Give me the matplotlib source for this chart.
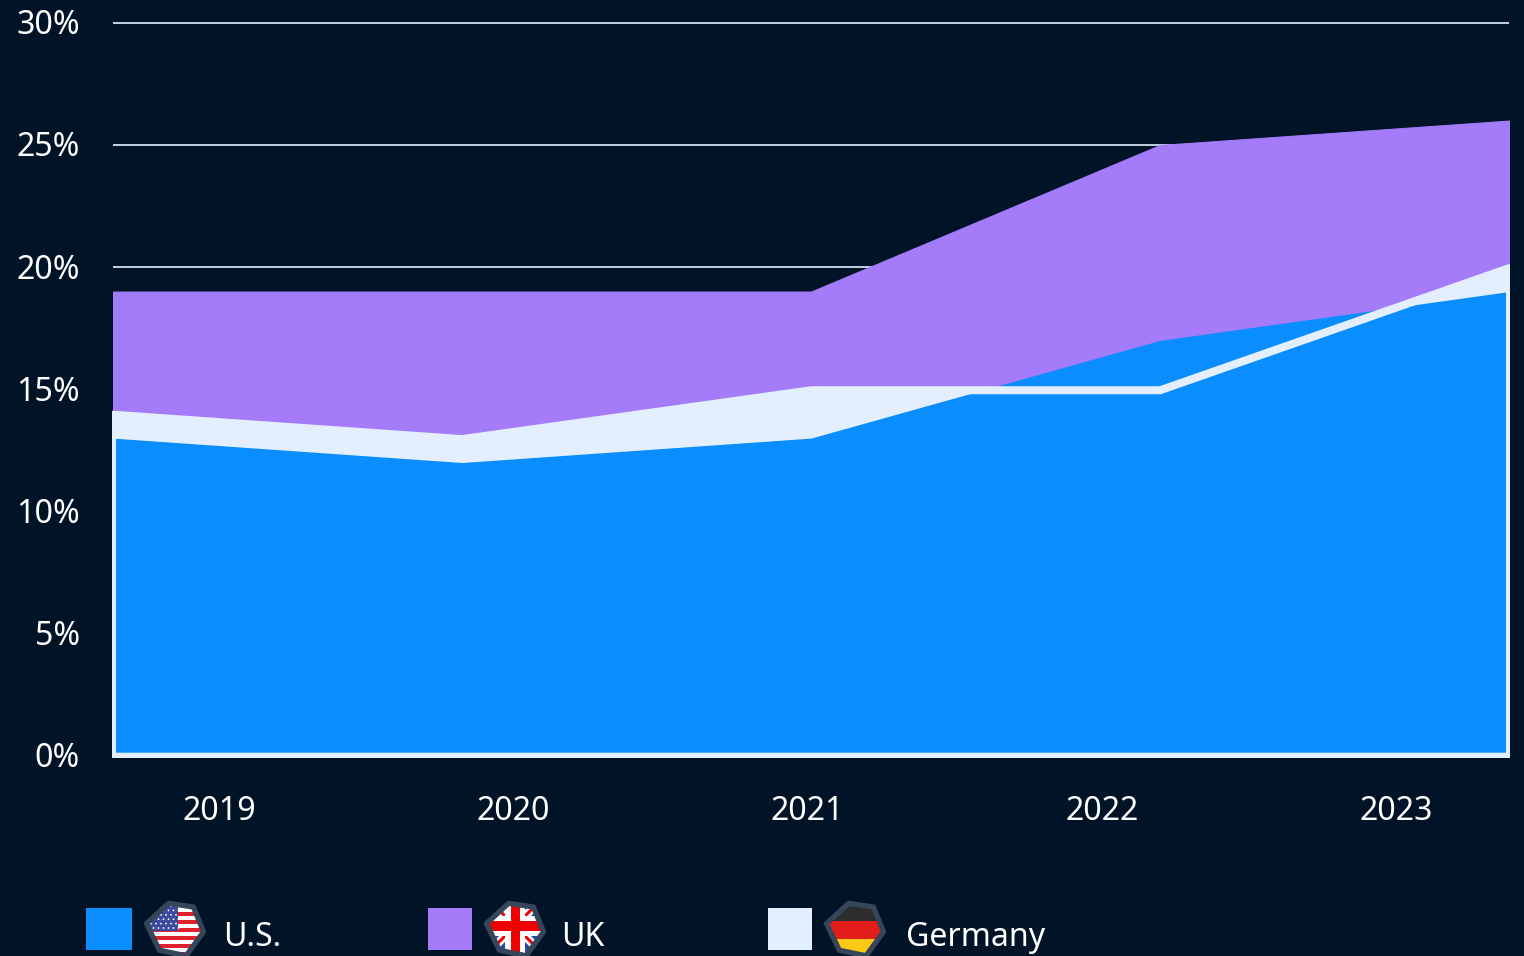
import numpy as np
import matplotlib
matplotlib.use("Agg")
import matplotlib.pyplot as plt
from matplotlib.patches import Polygon, Rectangle, Circle
from matplotlib.transforms import ScaledTranslation

plt.rcParams["font.family"] = ["Noto Sans", "DejaVu Sans"]

years = ["2019", "2020", "2021", "2022", "2023"]
us = [13, 12, 13, 17, 19]
uk = [19, 19, 19, 25, 26]
germany = [14, 13, 15, 15, 20]
y_ticks = [0, 5, 10, 15, 20, 25, 30]
legend_names = ["U.S.", "UK", "Germany"]

BG = "#001327"
BLUE = "#0a8dff"
PURPLE = "#a47bf9"
LIGHT = "#e3efff"
FONT = 23.1
W, H = 1524, 956
HEX = [(-7, -29), (20, -25), (31, 2), (12, 28), (-17, 22), (-31, -7)]


def hex_points(cx, cy, scale):
    return [(cx + x * scale, cy + y * scale) for x, y in HEX]


def draw_flag(ax, cx, cy, kind):
    """Flag shapes clipped to a hexagon badge, in pixel coordinates."""
    clip = Polygon(hex_points(cx, cy, 0.92), closed=True, transform=ax.transData)
    parts = []
    if kind == "us":
        parts.append(Rectangle((cx - 32, cy - 32), 64, 64, color="white"))
        for i in range(6):
            parts.append(Rectangle((cx - 32, cy - 18 + i * 7.9), 64, 4, color="#e0202c"))
        parts.append(Rectangle((cx - 32, cy - 32), 35, 33, color="#3c4a9e"))
        for i in range(6):
            for j in range(6):
                parts.append(Circle((cx - 24 + j * 5 + (i % 2) * 2.5, cy - 24 + i * 4.4), 0.9, color="white"))
    elif kind == "uk":
        fy = cy - 4
        parts.append(Rectangle((cx - 32, cy - 32), 64, 64, color="#2a4aa8"))
        for dx in (1, -1):
            parts.append(ax.plot([cx - 34 * dx, cx + 34 * dx], [fy - 34, fy + 34], color="white", lw=6, solid_capstyle="butt")[0])
            parts.append(ax.plot([cx - 34 * dx, cx + 34 * dx], [fy - 34, fy + 34], color="#f00000", lw=2.2, solid_capstyle="butt")[0])
        parts.append(Rectangle((cx - 32, fy - 10), 64, 20, color="white"))
        parts.append(Rectangle((cx - 10, cy - 32), 20, 64, color="white"))
        parts.append(Rectangle((cx - 32, fy - 5), 64, 10, color="#f00000"))
        parts.append(Rectangle((cx - 4.5, cy - 32), 9, 64, color="#f00000"))
    else:
        parts.append(Rectangle((cx - 32, cy - 32), 64, 23, color="#2d2d2d"))
        parts.append(Rectangle((cx - 32, cy - 9), 64, 18, color="#e31e1a"))
        parts.append(Rectangle((cx - 32, cy + 9), 64, 24, color="#fdc913"))
    for i, p in enumerate(parts):
        if isinstance(p, (Rectangle, Circle)):
            p.set_linewidth(0)
            ax.add_patch(p)
        p.set_zorder(2 + i * 0.01)
        p.set_clip_path(clip)
    ax.add_patch(Polygon(hex_points(cx, cy, 0.92), closed=True, fill=False, edgecolor="#36465a", lw=3.8, joinstyle="round", zorder=4))


fig = plt.figure(figsize=(W / 100, H / 100), dpi=100, facecolor=BG)
ax = fig.add_axes([112 / W, 1 - 758 / H, 1398 / W, 738 / H], facecolor=BG)

x = np.arange(len(years))
ax.hlines(y_ticks, x[0], x[-1], color=LIGHT, lw=1.2, zorder=1)
ax.fill_between(x, 0, uk, facecolor=PURPLE, edgecolor=PURPLE, lw=0.72, zorder=2)
ax.fill_between(x, 0, germany, color=LIGHT, lw=0, zorder=3)
ax.fill_between(x, 0, us, color=BLUE, lw=0, zorder=4)
# germany outline sits on top of the blue area
outline = ax.fill_between(x, 0, germany, facecolor="none", edgecolor=LIGHT, lw=4.32, zorder=5)
# the upper edge is heavier on its inner side
inner = ax.plot(x, germany, color=LIGHT, lw=7.2, zorder=5, solid_joinstyle="miter")[0]
germany_area = ax.fill_between(x, 0, germany, facecolor="none", lw=0)
inner.set_clip_path(germany_area.get_paths()[0], ax.transData)

ax.set_xlim(-1 / 349, 1397 / 349)
ax.set_ylim(-2.3 / 24.43, 735.7 / 24.43)
ax.set_yticks(y_ticks)
ax.set_yticklabels([f"{t}%" for t in y_ticks])
ax.set_xticks([])
ax.tick_params(axis="y", length=0, pad=23, labelsize=FONT, labelcolor="white")
# labels sit a pixel above their lines
nudge = ScaledTranslation(0, 1 / 100, fig.dpi_scale_trans)
for lab in ax.get_yticklabels():
    lab.set_transform(lab.get_transform() + nudge)
for s in ax.spines.values():
    s.set_visible(False)

# year labels follow a band scale, not the area points
ax2 = ax.twiny()
ax2.set_xlim((112 - 219) / 294.25, (1510 - 219) / 294.25)
ax2.set_xticks(x)
ax2.set_xticklabels(years)
ax2.xaxis.set_ticks_position("bottom")
ax2.tick_params(axis="x", length=0, pad=27, labelsize=FONT, labelcolor="white")
for s in ax2.spines.values():
    s.set_visible(False)

# legend, pixel coordinates
lg = fig.add_axes([0, 0, 1, 1], facecolor="none")
lg.set_xlim(0, W)
lg.set_ylim(H, 0)
lg.axis("off")
swatches = [(86, 46, BLUE), (428, 44, PURPLE), (768, 44, LIGHT)]
badges = [(175, "us"), (515, "uk"), (855, "de")]
text_x = [223.5, 561.5, 905.5]
for (sx, sw, col), (cx, kind), tx, name in zip(swatches, badges, text_x, legend_names):
    lg.add_patch(Rectangle((sx, 908), sw, 42, color=col, lw=0))
    draw_flag(lg, cx, 930, kind)
    lg.text(tx, 946, name, color="white", fontsize=FONT, va="baseline", ha="left")
lg.set_xlim(0, W)
lg.set_ylim(H, 0)

fig.savefig("out.png", dpi=100, facecolor=BG)
